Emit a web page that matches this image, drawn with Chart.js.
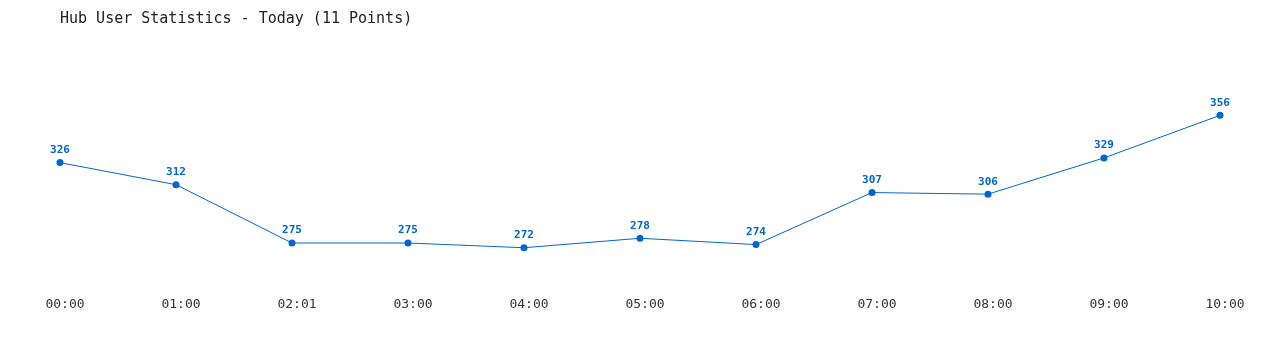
<!DOCTYPE html>
<html>
<head>
<meta charset="utf-8">
<script src="https://cdn.jsdelivr.net/npm/chart.js@4.4.0/dist/chart.umd.min.js"></script>
<style>
  html, body { margin: 0; padding: 0; background: #fff; }
  #wrap { width: 1280px; height: 350px; }
</style>
</head>
<body>
<div id="wrap"><canvas id="hubChart"></canvas></div>
<script>
// Data jam dan jumlah user
const timeLabels = ['00:00', '01:00', '02:01', '03:00', '04:00', '05:00', '06:00', '07:00', '08:00', '09:00', '10:00'];
const userCounts = [326, 312, 275, 275, 272, 278, 274, 307, 306, 329, 356];
const chartTitle = 'Hub User Statistics - Today (11 Points)';

const blue = '#0066cc';
const monoFont = "'DejaVu Sans Mono', 'Liberation Mono', monospace";

// plugin kecil untuk angka di atas titik
const pointLabels = {
    id: 'pointLabels',
    afterDatasetsDraw(chart) {
        const ctx = chart.ctx;
        const meta = chart.getDatasetMeta(0);
        ctx.save();
        ctx.font = "bold 11px " + monoFont;
        ctx.fillStyle = blue;
        ctx.textAlign = 'center';
        ctx.textBaseline = 'bottom';
        meta.data.forEach(function(pt, i) {
            ctx.fillText(String(userCounts[i]), pt.x, pt.y - 7);
        });
        ctx.restore();
    }
};

function initHubChart() {
    const ctx = document.getElementById('hubChart').getContext('2d');
    const chart = new Chart(ctx, {
        type: 'line',
        data: {
            labels: timeLabels,
            datasets: [{
                label: 'Users',
                data: userCounts,
                borderColor: blue,
                backgroundColor: blue,
                borderWidth: 1,
                tension: 0,
                fill: false,
                pointRadius: 3.5,
                pointBorderWidth: 0,
                pointBackgroundColor: blue
            }]
        },
        options: {
            responsive: true,
            maintainAspectRatio: false,
            animation: false,
            layout: {
                padding: { left: 60, right: 60, top: 0, bottom: 24 }
            },
            scales: {
                x: {
                    offset: false,
                    grid: { display: false, drawTicks: false },
                    border: { display: false },
                    ticks: {
                        color: '#333',
                        font: { family: monoFont, size: 13 },
                        padding: 14,
                        labelOffset: 5,
                        maxRotation: 0,
                        autoSkip: false
                    }
                },
                y: {
                    display: false,
                    min: 250,
                    max: 400
                }
            },
            plugins: {
                legend: { display: false },
                tooltip: { enabled: false },
                title: {
                    display: true,
                    text: chartTitle,
                    align: 'start',
                    color: '#222',
                    font: { family: monoFont, size: 15, weight: 'normal' },
                    padding: { top: 10, bottom: 18 }
                }
            }
        },
        plugins: [pointLabels]
    });
}

document.addEventListener('DOMContentLoaded', function() {
    initHubChart();
});
</script>
</body>
</html>
